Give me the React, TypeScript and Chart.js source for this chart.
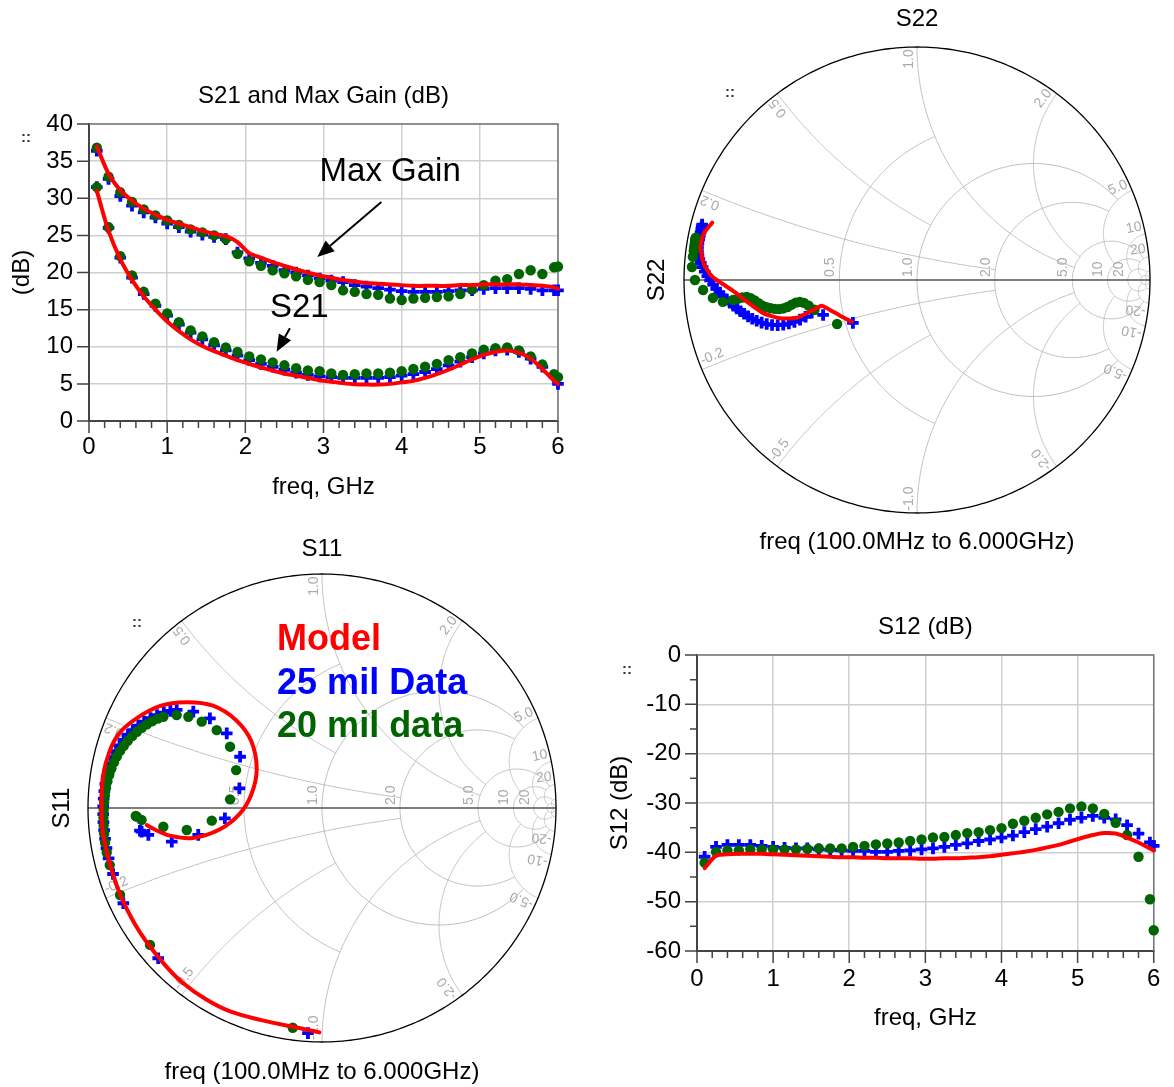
import React, { useEffect, useRef } from 'react';
import { Chart, registerables } from 'chart.js';

Chart.register(...registerables);

const FONT = '"Liberation Sans", Arial, Helvetica, sans-serif';
const RED = '#ff0000';
const BLUE = '#0000ff';
const GREEN = '#006400';
const GRID = '#cfcfcf';

type Pt = [number, number];

// ---------------- data ----------------
const FREQ_GHZ = [0.10, 0.25, 0.40, 0.55, 0.70, 0.85, 1.00, 1.15, 1.30, 1.45, 1.60, 1.75, 1.90, 2.05, 2.20, 2.35, 2.50, 2.65, 2.80, 2.95, 3.10, 3.25, 3.40, 3.55, 3.70, 3.85, 4.00, 4.15, 4.30, 4.45, 4.60, 4.75, 4.90, 5.05, 5.20, 5.35, 5.50, 5.65, 5.80, 5.95, 6.00];

const MAXGAIN_MODEL = [37.0, 33.3, 31.1, 29.7, 28.6, 27.8, 27.1, 26.6, 26.1, 25.6, 25.2, 24.9, 24.1, 22.6, 22.0, 21.4, 20.9, 20.4, 20.0, 19.6, 19.3, 19.0, 18.8, 18.6, 18.5, 18.4, 18.3, 18.2, 18.2, 18.2, 18.2, 18.3, 18.3, 18.4, 18.4, 18.4, 18.4, 18.3, 18.2, 18.0, 17.8];
const MAXGAIN_25MIL = [36.4, 32.6, 30.3, 29.0, 28.1, 27.4, 26.6, 26.1, 25.5, 25.1, 24.8, 24.5, 22.7, 21.9, 21.3, 20.9, 20.3, 20.0, 19.6, 19.2, 18.9, 18.7, 18.3, 18.1, 17.9, 17.7, 17.5, 17.4, 17.4, 17.4, 17.5, 17.6, 17.6, 17.8, 17.9, 17.9, 17.9, 17.8, 17.6, 17.6, 17.6];
const MAXGAIN_20MIL = [36.8, 32.9, 30.8, 29.5, 28.5, 27.7, 27.0, 26.4, 25.8, 25.4, 25.0, 24.5, 22.5, 21.5, 20.9, 20.3, 19.9, 19.5, 19.0, 18.7, 18.3, 17.6, 17.4, 17.1, 17.0, 16.5, 16.3, 16.5, 16.6, 16.7, 16.8, 17.1, 17.7, 18.3, 18.9, 19.1, 19.8, 20.3, 19.8, 20.7, 20.8];

const S21_MODEL = [31.0, 25.6, 21.8, 19.0, 16.8, 15.0, 13.4, 12.1, 11.0, 10.1, 9.4, 8.8, 8.2, 7.7, 7.2, 6.8, 6.4, 6.1, 5.8, 5.5, 5.3, 5.1, 4.95, 4.9, 4.9, 5.0, 5.2, 5.4, 5.8, 6.3, 6.9, 7.6, 8.3, 8.9, 9.3, 9.5, 9.2, 8.4, 7.0, 5.4, 5.0];
const S21_25MIL = [31.5, 26.0, 22.0, 19.3, 17.1, 15.5, 14.2, 13.0, 11.9, 11.0, 10.2, 9.5, 8.8, 8.2, 7.7, 7.3, 6.9, 6.5, 6.2, 6.0, 5.9, 5.8, 5.8, 5.8, 5.8, 5.9, 6.1, 6.3, 6.6, 7.0, 7.5, 8.0, 8.6, 9.1, 9.5, 9.6, 9.3, 8.4, 7.3, 6.0, 5.0];
const S21_20MIL = [31.5, 26.1, 22.2, 19.6, 17.4, 15.8, 14.5, 13.3, 12.2, 11.4, 10.6, 9.9, 9.3, 8.7, 8.3, 7.9, 7.5, 7.1, 6.8, 6.7, 6.4, 6.2, 6.3, 6.4, 6.4, 6.5, 6.7, 7.0, 7.3, 7.7, 8.2, 8.6, 9.1, 9.6, 9.8, 9.9, 9.5, 8.7, 7.6, 6.3, 5.9];

const S12_MODEL = [-43.2, -40.7, -40.4, -40.3, -40.3, -40.3, -40.4, -40.5, -40.6, -40.7, -40.8, -40.9, -41.0, -41.0, -41.1, -41.1, -41.2, -41.2, -41.2, -41.3, -41.3, -41.2, -41.2, -41.1, -41.0, -40.8, -40.5, -40.2, -39.9, -39.5, -39.0, -38.5, -37.8, -37.1, -36.5, -36.1, -36.2, -37.0, -38.0, -39.2, -39.6];
const S12_25MIL = [-40.9, -38.9, -38.5, -38.5, -38.5, -38.7, -38.9, -39.1, -39.2, -39.2, -39.4, -39.5, -39.6, -39.7, -39.7, -39.9, -39.9, -39.7, -39.6, -39.4, -39.2, -38.9, -38.5, -38.2, -37.7, -37.4, -37.0, -36.6, -35.9, -35.3, -34.8, -34.1, -33.4, -33.0, -32.6, -33.0, -33.3, -34.5, -36.2, -38.0, -38.7];
const S12_20MIL = [-42.1, -39.9, -39.6, -39.6, -39.4, -39.4, -39.4, -39.4, -39.4, -39.3, -39.2, -39.2, -39.2, -38.9, -38.7, -38.4, -38.2, -38.0, -37.7, -37.4, -37.0, -36.9, -36.5, -36.1, -35.9, -35.5, -35.1, -34.2, -33.6, -33.0, -32.3, -31.8, -31.1, -30.7, -31.1, -32.2, -34.0, -36.5, -40.9, -49.5, -55.8];

// reflection coefficients [Re, Im], 100 MHz first
const S11_MODEL: Pt[] = [[-0.011, -0.959], [-0.390, -0.870], [-0.593, -0.749], [-0.755, -0.565], [-0.851, -0.397], [-0.905, -0.244], [-0.936, -0.107], [-0.942, 0.015], [-0.936, 0.137], [-0.907, 0.244], [-0.865, 0.321], [-0.794, 0.382], [-0.694, 0.435], [-0.580, 0.452], [-0.466, 0.437], [-0.367, 0.375], [-0.302, 0.285], [-0.279, 0.165], [-0.302, 0.058], [-0.352, -0.025], [-0.438, -0.092], [-0.552, -0.128], [-0.651, -0.118], [-0.708, -0.095], [-0.749, -0.073]];
const S11_25MIL: Pt[] = [[-0.060, -0.962], [-0.700, -0.642], [-0.849, -0.407], [-0.893, -0.282], [-0.912, -0.215], [-0.921, -0.172], [-0.927, -0.132], [-0.931, -0.095], [-0.934, -0.060], [-0.935, -0.026], [-0.935, 0.007], [-0.933, 0.040], [-0.930, 0.072], [-0.926, 0.103], [-0.920, 0.133], [-0.913, 0.162], [-0.904, 0.190], [-0.893, 0.217], [-0.880, 0.243], [-0.865, 0.268], [-0.848, 0.291], [-0.829, 0.313], [-0.808, 0.333], [-0.785, 0.352], [-0.760, 0.369], [-0.733, 0.384], [-0.705, 0.397], [-0.676, 0.408], [-0.648, 0.415], [-0.621, 0.419], [-0.550, 0.412], [-0.479, 0.383], [-0.407, 0.319], [-0.350, 0.219], [-0.353, 0.084], [-0.415, -0.044], [-0.529, -0.115], [-0.642, -0.144], [-0.742, -0.115], [-0.771, -0.101], [-0.778, -0.097]];
const S11_20MIL: Pt[] = [[-0.125, -0.939], [-0.735, -0.585], [-0.863, -0.372], [-0.907, -0.244], [-0.920, -0.190], [-0.927, -0.148], [-0.931, -0.110], [-0.933, -0.075], [-0.934, -0.041], [-0.933, -0.008], [-0.931, 0.024], [-0.928, 0.055], [-0.923, 0.085], [-0.917, 0.114], [-0.909, 0.142], [-0.900, 0.169], [-0.889, 0.195], [-0.877, 0.220], [-0.863, 0.244], [-0.847, 0.266], [-0.830, 0.287], [-0.811, 0.307], [-0.791, 0.326], [-0.770, 0.343], [-0.748, 0.358], [-0.725, 0.371], [-0.702, 0.382], [-0.678, 0.390], [-0.621, 0.397], [-0.571, 0.390], [-0.514, 0.369], [-0.450, 0.333], [-0.393, 0.262], [-0.367, 0.162], [-0.393, 0.037], [-0.471, -0.054], [-0.578, -0.094], [-0.678, -0.080], [-0.771, -0.051], [-0.792, -0.037], [-0.796, -0.034]];

const S22_MODEL: Pt[] = [[-0.280, -0.179], [-0.330, -0.153], [-0.373, -0.129], [-0.409, -0.110], [-0.446, -0.129], [-0.515, -0.162], [-0.587, -0.164], [-0.660, -0.142], [-0.730, -0.093], [-0.785, -0.050], [-0.835, -0.016], [-0.879, 0.014], [-0.915, 0.069], [-0.929, 0.143], [-0.915, 0.200], [-0.879, 0.246]];
const S22_25MIL: Pt[] = [[-0.275, -0.184], [-0.403, -0.150], [-0.452, -0.140], [-0.478, -0.158], [-0.502, -0.170], [-0.526, -0.180], [-0.550, -0.187], [-0.574, -0.192], [-0.598, -0.194], [-0.622, -0.193], [-0.645, -0.189], [-0.667, -0.183], [-0.688, -0.175], [-0.707, -0.166], [-0.725, -0.156], [-0.742, -0.145], [-0.758, -0.134], [-0.773, -0.122], [-0.788, -0.110], [-0.803, -0.097], [-0.818, -0.083], [-0.833, -0.069], [-0.848, -0.054], [-0.862, -0.038], [-0.875, -0.020], [-0.888, -0.002], [-0.900, 0.017], [-0.911, 0.036], [-0.920, 0.055], [-0.928, 0.073], [-0.934, 0.090], [-0.938, 0.107], [-0.940, 0.124], [-0.940, 0.141], [-0.938, 0.158], [-0.935, 0.174], [-0.932, 0.190], [-0.929, 0.204], [-0.926, 0.218], [-0.924, 0.230], [-0.922, 0.238]];
const S22_20MIL: Pt[] = [[-0.343, -0.189], [-0.440, -0.128], [-0.465, -0.110], [-0.485, -0.098], [-0.503, -0.094], [-0.520, -0.097], [-0.538, -0.106], [-0.556, -0.116], [-0.574, -0.122], [-0.592, -0.125], [-0.610, -0.124], [-0.628, -0.121], [-0.646, -0.117], [-0.663, -0.110], [-0.680, -0.100], [-0.697, -0.088], [-0.714, -0.078], [-0.731, -0.073], [-0.750, -0.075], [-0.770, -0.081], [-0.790, -0.086], [-0.833, -0.094], [-0.876, -0.077], [-0.918, -0.043], [-0.953, 0.000], [-0.966, 0.056], [-0.962, 0.100], [-0.958, 0.125], [-0.956, 0.135], [-0.955, 0.142], [-0.954, 0.148], [-0.953, 0.153], [-0.953, 0.158], [-0.952, 0.162], [-0.952, 0.166], [-0.951, 0.169], [-0.951, 0.172], [-0.950, 0.175], [-0.950, 0.178], [-0.949, 0.180], [-0.949, 0.182]];

// Smith grid: [resistance, max |reactance|] and [reactance, max resistance]
const SMITH_R_CIRCLES: Pt[] = [[0.5, 1], [1, 5], [2, 5], [5, 20], [10, 20], [20, 50], [50, 1e6]];
const SMITH_X_ARCS: Pt[] = [[0.2, 2], [0.5, 1], [1, 5], [2, 5], [5, 10], [10, 20], [20, 50], [50, 1e6]];
const SMITH_R_LABELS = [0.5, 1, 2, 5, 10, 20];
const SMITH_X_LABELS = [0.2, 0.5, 1, 2, 5, 10, 20];

const SERIES_NAMES = ['Model', '25 mil Data', '20 mil data'];

// annotation anchors (data coordinates)
const S21_NOTES = [{ text: 'Max Gain', f: 2.95, v: 33.5 }, { text: 'S21', f: 2.315, v: 15.2 }];
const S21_ARROWS: { from: Pt; to: Pt }[] = [{ from: [3.74, 29.5], to: [2.92, 22.1] }, { from: [2.57, 12.5], to: [2.40, 9.33] }];

// ---------------- helpers ----------------
const xy = (f: number[], v: number[]) => f.map((x, i) => ({ x, y: v[i] }));
const cplx = (pts: Pt[]) => pts.map(([re, im]) => ({ x: re, y: im }));

function modelSet(data: any[], tension: number) {
  return { label: SERIES_NAMES[0], data, showLine: true, borderColor: RED, borderWidth: 4, pointRadius: 0, pointHoverRadius: 0, tension, fill: false, clip: false, borderJoinStyle: 'round', borderCapStyle: 'round' };
}
function dotSet(data: any[]) {
  return { label: SERIES_NAMES[2], data, showLine: false, pointStyle: 'circle', pointRadius: 5.2, pointHoverRadius: 5.2, pointBackgroundColor: GREEN, pointBorderColor: GREEN, pointBorderWidth: 0, clip: false };
}
function crossSet(data: any[]) {
  return { label: SERIES_NAMES[1], data, showLine: false, pointStyle: 'cross', pointRadius: 5.8, pointHoverRadius: 5.8, pointBackgroundColor: BLUE, pointBorderColor: BLUE, pointBorderWidth: 3.8, clip: false };
}

function gammaOf(r: number, x: number): Pt {
  const d = (r + 1) * (r + 1) + x * x;
  return [(r * r - 1 + x * x) / d, (2 * x) / d];
}
const fmt = (v: number) => (v >= 10 ? String(v) : v.toFixed(1));

function drawHandle(ctx: any, h: Pt) {
  ctx.save();
  ctx.fillStyle = '#333';
  ctx.font = `bold 15px ${FONT}`;
  ctx.textAlign = 'center';
  ctx.textBaseline = 'middle';
  ctx.fillText('::', h[0], h[1]);
  ctx.restore();
}

function rectDecor(p: { xMajor: number; xMinor: number; yMajor: number; yMinor: number; handle: Pt; notes?: typeof S21_NOTES; arrows?: typeof S21_ARROWS }) {
  return {
    id: 'rectDecor',
    beforeDatasetsDraw(chart: any) {
      const { ctx, chartArea: a, scales } = chart;
      const x = scales.x, y = scales.y;
      ctx.save();
      ctx.strokeStyle = '#777';
      ctx.lineWidth = 1.5;
      ctx.beginPath();
      ctx.moveTo(a.left, a.top);
      ctx.lineTo(a.right, a.top);
      ctx.lineTo(a.right, a.bottom);
      ctx.stroke();
      ctx.strokeStyle = '#444';
      ctx.lineWidth = 1.5;
      ctx.beginPath();
      const nx = Math.round((x.max - x.min) / p.xMinor);
      for (let i = 0; i <= nx; i++) {
        const v = x.min + i * p.xMinor;
        const major = Math.abs(v / p.xMajor - Math.round(v / p.xMajor)) < 1e-6;
        const px = x.getPixelForValue(v);
        ctx.moveTo(px, a.bottom);
        ctx.lineTo(px, a.bottom + (major ? 12 : 7));
      }
      const ny = Math.round((y.max - y.min) / p.yMinor);
      for (let i = 0; i <= ny; i++) {
        const v = y.min + i * p.yMinor;
        const major = Math.abs(v / p.yMajor - Math.round(v / p.yMajor)) < 1e-6;
        const py = y.getPixelForValue(v);
        ctx.moveTo(a.left, py);
        ctx.lineTo(a.left - (major ? 12 : 7), py);
      }
      ctx.stroke();
      ctx.restore();
      drawHandle(ctx, p.handle);
    },
    afterDatasetsDraw(chart: any) {
      const { ctx, scales } = chart;
      const x = scales.x, y = scales.y;
      ctx.save();
      ctx.fillStyle = '#000';
      ctx.strokeStyle = '#000';
      ctx.font = `33px ${FONT}`;
      ctx.textAlign = 'left';
      ctx.textBaseline = 'middle';
      (p.notes || []).forEach((n) => ctx.fillText(n.text, x.getPixelForValue(n.f), y.getPixelForValue(n.v)));
      (p.arrows || []).forEach((ar) => {
        const x0 = x.getPixelForValue(ar.from[0]), y0 = y.getPixelForValue(ar.from[1]);
        const x1 = x.getPixelForValue(ar.to[0]), y1 = y.getPixelForValue(ar.to[1]);
        const ang = Math.atan2(y1 - y0, x1 - x0);
        const hl = 17, hw = 7;
        const bx = x1 - hl * Math.cos(ang), by = y1 - hl * Math.sin(ang);
        ctx.lineWidth = 2;
        ctx.beginPath();
        ctx.moveTo(x0, y0);
        ctx.lineTo(bx, by);
        ctx.stroke();
        ctx.beginPath();
        ctx.moveTo(x1, y1);
        ctx.lineTo(bx + hw * Math.sin(ang), by - hw * Math.cos(ang));
        ctx.lineTo(bx - hw * Math.sin(ang), by + hw * Math.cos(ang));
        ctx.closePath();
        ctx.fill();
      });
      ctx.restore();
    },
  };
}

function smithGrid(p: { handle: Pt; legend?: { re: number; im: number[] } }) {
  return {
    id: 'smithGrid',
    beforeDatasetsDraw(chart: any) {
      const { ctx, scales } = chart;
      const xs = scales.x, ys = scales.y;
      const P = (re: number, im: number): Pt => [xs.getPixelForValue(re), ys.getPixelForValue(im)];
      const N = 240;
      ctx.save();
      ctx.lineWidth = 1;
      ctx.strokeStyle = '#bdbdbd';
      SMITH_R_CIRCLES.forEach(([r, X]) => {
        const c = r / (r + 1), rad = 1 / (r + 1);
        const g = gammaOf(r, X);
        const th = Math.atan2(g[1], g[0] - c);
        ctx.beginPath();
        for (let i = 0; i <= N; i++) {
          const t = th + ((2 * Math.PI - 2 * th) * i) / N;
          const [px, py] = P(c + rad * Math.cos(t), rad * Math.sin(t));
          if (i === 0) ctx.moveTo(px, py); else ctx.lineTo(px, py);
        }
        ctx.stroke();
      });
      SMITH_X_ARCS.forEach(([xv, R]) => {
        [1, -1].forEach((s) => {
          const xx = xv * s;
          const cy = 1 / xx, rad = 1 / Math.abs(xx);
          const g0 = gammaOf(0, xx), g1 = gammaOf(R, xx);
          const a0 = Math.atan2(g0[1] - cy, g0[0] - 1);
          const a1 = Math.atan2(g1[1] - cy, g1[0] - 1);
          let d = a1 - a0;
          while (d > Math.PI) d -= 2 * Math.PI;
          while (d < -Math.PI) d += 2 * Math.PI;
          ctx.beginPath();
          for (let i = 0; i <= N; i++) {
            const t = a0 + (d * i) / N;
            const [px, py] = P(1 + rad * Math.cos(t), cy + rad * Math.sin(t));
            if (i === 0) ctx.moveTo(px, py); else ctx.lineTo(px, py);
          }
          ctx.stroke();
        });
      });
      // real axis
      ctx.strokeStyle = '#555';
      ctx.lineWidth = 1.3;
      const [lx, ly] = P(-1, 0);
      const [rx] = P(1, 0);
      ctx.beginPath();
      ctx.moveTo(lx, ly);
      ctx.lineTo(rx, ly);
      ctx.stroke();
      // outer circle
      ctx.strokeStyle = '#000';
      ctx.lineWidth = 1.3;
      ctx.beginPath();
      for (let i = 0; i <= 360; i++) {
        const t = (i / 360) * 2 * Math.PI;
        const [px, py] = P(Math.cos(t), Math.sin(t));
        if (i === 0) ctx.moveTo(px, py); else ctx.lineTo(px, py);
      }
      ctx.stroke();
      // labels
      ctx.fillStyle = '#aaaaaa';
      ctx.font = `14px ${FONT}`;
      SMITH_R_LABELS.forEach((r) => {
        const [px, py] = P((r - 1) / (r + 1), 0);
        ctx.save();
        ctx.translate(px - 2, py - 3);
        ctx.rotate(-Math.PI / 2);
        ctx.textAlign = 'left';
        ctx.textBaseline = 'bottom';
        ctx.fillText(fmt(r), 0, 0);
        ctx.restore();
      });
      SMITH_X_LABELS.forEach((xv) => {
        [1, -1].forEach((s) => {
          const g = gammaOf(0, xv * s);
          const phi = Math.atan2(g[1], g[0]);
          const [px, py] = P(g[0] * 0.99, g[1] * 0.99);
          ctx.save();
          ctx.translate(px, py);
          if (s > 0) {
            ctx.rotate(-phi);
            ctx.textAlign = 'right';
          } else {
            ctx.rotate(Math.PI - phi);
            ctx.textAlign = 'left';
          }
          ctx.textBaseline = 'bottom';
          ctx.fillText((s < 0 ? '-' : '') + fmt(xv), 0, -1);
          ctx.restore();
        });
      });
      ctx.restore();
      drawHandle(ctx, p.handle);
    },
    afterDatasetsDraw(chart: any) {
      if (!p.legend) return;
      const { ctx, scales } = chart;
      const colors = [RED, BLUE, GREEN];
      ctx.save();
      ctx.font = `bold 36px ${FONT}`;
      ctx.textAlign = 'left';
      ctx.textBaseline = 'middle';
      SERIES_NAMES.forEach((name, i) => {
        ctx.fillStyle = colors[i];
        ctx.fillText(name, scales.x.getPixelForValue(p.legend!.re), scales.y.getPixelForValue(p.legend!.im[i]));
      });
      ctx.restore();
    },
  };
}

const titleFont = { family: FONT, size: 24, weight: 'normal' as const, lineHeight: 1.2 };

function rectConfig(p: any) {
  return {
    type: 'scatter',
    data: { datasets: p.datasets },
    options: {
      responsive: false,
      animation: false,
      events: [],
      layout: { padding: { left: 0, right: p.padRight, top: 0, bottom: 0 } },
      plugins: {
        legend: { display: false },
        tooltip: { enabled: false },
        title: { display: true, fullSize: false, text: p.title, color: '#000', font: titleFont, padding: { top: p.titleTop, bottom: p.titleBottom } },
      },
      scales: {
        x: {
          type: 'linear', min: 0, max: 6,
          afterFit: (s: any) => { s.height = p.xHeight; },
          ticks: { stepSize: 1, color: '#000', font: { family: FONT, size: 24 }, padding: p.xTickPad, maxRotation: 0, autoSkip: false },
          grid: { color: GRID, lineWidth: 1.5, drawTicks: false },
          border: { display: true, color: '#444', width: 2 },
          title: { display: true, text: 'freq, GHz', color: '#000', font: titleFont, padding: { top: 0, bottom: p.xTitlePad } },
        },
        y: {
          type: 'linear', min: p.yMin, max: p.yMax,
          afterFit: (s: any) => { s.width = p.yWidth; },
          ticks: { stepSize: p.yStep, color: '#000', font: { family: FONT, size: 24 }, padding: 16, autoSkip: false },
          grid: { color: GRID, lineWidth: 1.5, drawTicks: false },
          border: { display: true, color: '#444', width: 2 },
          title: { display: true, text: p.yTitle, color: '#000', font: titleFont, padding: { top: p.yTitlePad, bottom: 0 } },
        },
      },
    },
    plugins: [p.decor],
  };
}

function smithConfig(p: any) {
  return {
    type: 'scatter',
    data: { datasets: [modelSet(cplx(p.model), p.tension), dotSet(cplx(p.d20)), crossSet(cplx(p.d25))] },
    options: {
      responsive: false,
      animation: false,
      events: [],
      layout: { padding: { left: 0, right: p.padRight, top: 0, bottom: 0 } },
      plugins: {
        legend: { display: false },
        tooltip: { enabled: false },
        title: { display: true, fullSize: false, text: p.title, color: '#000', font: titleFont, padding: { top: p.titleTop, bottom: p.titleBottom } },
      },
      scales: {
        x: {
          type: 'linear', min: -1, max: 1,
          afterFit: (s: any) => { s.height = p.xHeight; },
          ticks: { display: false },
          grid: { display: false },
          border: { display: false },
          title: { display: true, text: 'freq (100.0MHz to 6.000GHz)', color: '#000', font: titleFont, padding: { top: 0, bottom: p.xTitlePad } },
        },
        y: {
          type: 'linear', min: -1, max: 1,
          afterFit: (s: any) => { s.width = p.yWidth; },
          ticks: { display: false },
          grid: { display: false },
          border: { display: false },
          title: { display: true, text: p.title, color: '#000', font: titleFont, padding: { top: p.yTitlePad, bottom: 0 } },
        },
      },
    },
    plugins: [smithGrid({ handle: p.handle, legend: p.legend })],
  };
}

function ChartBox({ left, top, width, height, make }: { left: number; top: number; width: number; height: number; make: () => any }) {
  const ref = useRef<HTMLCanvasElement>(null);
  useEffect(() => {
    const chart = new Chart(ref.current as HTMLCanvasElement, make());
    return () => chart.destroy();
  }, []);
  return <canvas ref={ref} width={width} height={height} style={{ position: 'absolute', left, top, width, height }} />;
}

const makeS21 = () =>
  rectConfig({
    title: 'S21 and Max Gain (dB)', yTitle: '(dB)', yMin: 0, yMax: 40, yStep: 5,
    padRight: 22, titleTop: 21.6, titleBottom: 13.6, yWidth: 89, xHeight: 89, xTickPad: 11.6, xTitlePad: 8.6, yTitlePad: 7.6,
    datasets: [
      modelSet(xy(FREQ_GHZ, MAXGAIN_MODEL), 0.3), modelSet(xy(FREQ_GHZ, S21_MODEL), 0.3),
      dotSet(xy(FREQ_GHZ, MAXGAIN_20MIL)), dotSet(xy(FREQ_GHZ, S21_20MIL)),
      crossSet(xy(FREQ_GHZ, MAXGAIN_25MIL)), crossSet(xy(FREQ_GHZ, S21_25MIL)),
    ],
    decor: rectDecor({ xMajor: 1, xMinor: 0.2, yMajor: 5, yMinor: 5, handle: [26, 78], notes: S21_NOTES, arrows: S21_ARROWS }),
  });

const makeS12 = () =>
  rectConfig({
    title: 'S12 (dB)', yTitle: 'S12 (dB)', yMin: -60, yMax: 0, yStep: 10,
    padRight: 9, titleTop: 12.6, titleBottom: 13.6, yWidth: 97, xHeight: 94, xTickPad: 13.6, xTitlePad: 12.6, yTitlePad: 5.6,
    datasets: [
      modelSet(xy(FREQ_GHZ, S12_MODEL), 0.3),
      dotSet(xy(FREQ_GHZ, S12_20MIL)),
      crossSet(xy(FREQ_GHZ, S12_25MIL)),
    ],
    decor: rectDecor({ xMajor: 1, xMinor: 0.2, yMajor: 10, yMinor: 5, handle: [27, 70] }),
  });

const makeS22 = () =>
  smithConfig({
    title: 'S22', model: S22_MODEL, d25: S22_25MIL, d20: S22_20MIL, tension: 0.2,
    padRight: 24, titleTop: 4.6, titleBottom: 13.6, yWidth: 44, xHeight: 47, xTitlePad: 3.6, yTitlePad: 2.6,
    handle: [90, 93],
  });

const makeS11 = () =>
  smithConfig({
    title: 'S11', model: S11_MODEL, d25: S11_25MIL, d20: S11_20MIL, tension: 0.3,
    padRight: 23, titleTop: 14.6, titleBottom: 10.6, yWidth: 43, xHeight: 45, xTitlePad: 0.6, yTitlePad: 2.6,
    handle: [92, 103],
    legend: { re: -0.192, im: [0.718, 0.53, 0.346] },
  });

export default function App() {
  return (
    <div style={{ position: 'absolute', left: 0, top: 0, width: 1174, height: 1087, background: '#fff', overflow: 'hidden' }}>
      <ChartBox left={0} top={60} width={580} height={450} make={makeS21} />
      <ChartBox left={640} top={0} width={534} height={560} make={makeS22} />
      <ChartBox left={45} top={520} width={534} height={567} make={makeS11} />
      <ChartBox left={600} top={600} width={574} height={445} make={makeS12} />
    </div>
  );
}
